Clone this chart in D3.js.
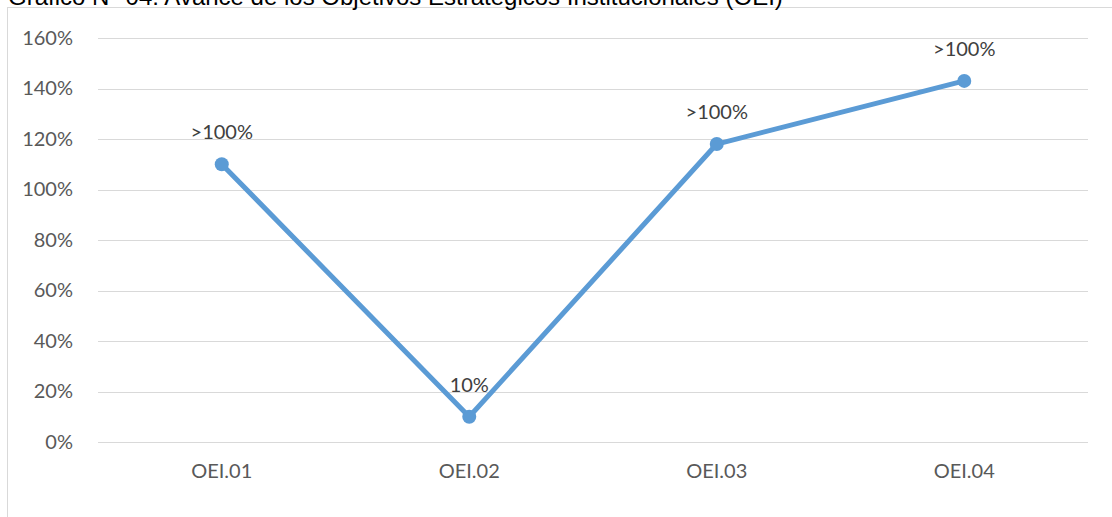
<!DOCTYPE html>
<html>
<head>
<meta charset="utf-8">
<script src="https://cdn.jsdelivr.net/npm/d3@7"></script>
<style>
  body { margin: 0; background: #fff; }
  svg { display: block; }
</style>
</head>
<body>
<svg id="chart"></svg>
<script>
const categories = ["OEI.01", "OEI.02", "OEI.03", "OEI.04"];
const values = [1.10, 0.10, 1.18, 1.43];
const pointLabels = [">100%", "10%", ">100%", ">100%"];
const yTicks = [0, 0.2, 0.4, 0.6, 0.8, 1.0, 1.2, 1.4, 1.6];

const width = 1112, height = 517;
const margin = { top: 38, right: 24, bottom: 75, left: 98 };

const svg = d3.select("#chart")
    .attr("width", width)
    .attr("height", height);

// chart frame (cut off on the right and bottom like the original)
svg.append("rect")
    .attr("x", 7.5).attr("y", 7.5)
    .attr("width", width + 20).attr("height", height + 20)
    .attr("fill", "none")
    .attr("stroke", "#d9d9d9")
    .attr("stroke-width", 1);

// title, mostly clipped at the top as in the source picture
svg.append("text")
    .attr("x", 8).attr("y", 5)
    .attr("font-family", "Liberation Sans, Arial, sans-serif")
    .attr("font-size", 24)
    .attr("fill", "#000")
    .text("Gráfico N° 04: Avance de los Objetivos Estratégicos Institucionales (OEI)");

const x = d3.scaleBand()
    .domain(categories)
    .range([margin.left, width - margin.right]);

const y = d3.scaleLinear()
    .domain([0, 1.6])
    .range([height - margin.bottom, margin.top]);

const font = "Lato, 'Open Sans', sans-serif";

// gridlines
svg.append("g")
    .selectAll("line")
    .data(yTicks)
    .enter()
    .append("line")
    .attr("x1", margin.left)
    .attr("x2", width - margin.right)
    .attr("y1", d => Math.round(y(d)) + 0.5)
    .attr("y2", d => Math.round(y(d)) + 0.5)
    .attr("stroke", "#d9d9d9")
    .attr("stroke-width", 1);

// y axis labels
const yAxis = svg.append("g")
    .attr("transform", "translate(" + (margin.left - 22) + ",0)")
    .call(d3.axisLeft(y).tickValues(yTicks).tickFormat(d3.format(".0%")).tickSize(0));
yAxis.select(".domain").remove();
yAxis.selectAll("text")
    .attr("font-family", font)
    .attr("font-size", 20)
    .attr("fill", "#595959");

// x axis labels
const xAxis = svg.append("g")
    .attr("transform", "translate(0," + (height - margin.bottom) + ")")
    .call(d3.axisBottom(x).tickSize(0).tickPadding(22));
xAxis.select(".domain").remove();
xAxis.selectAll("text")
    .attr("font-family", font)
    .attr("font-size", 20)
    .attr("fill", "#595959");

const cx = d => x(d) + x.bandwidth() / 2;

const line = d3.line()
    .x((d, i) => cx(categories[i]))
    .y(d => y(d));

svg.append("path")
    .datum(values)
    .attr("d", line)
    .attr("fill", "none")
    .attr("stroke", "#5b9bd5")
    .attr("stroke-width", 5)
    .attr("stroke-linejoin", "round")
    .attr("stroke-linecap", "round");

svg.append("g")
    .selectAll("circle")
    .data(values)
    .enter()
    .append("circle")
    .attr("cx", (d, i) => cx(categories[i]))
    .attr("cy", d => y(d))
    .attr("r", 7)
    .attr("fill", "#5b9bd5");

// data labels
svg.append("g")
    .selectAll("text")
    .data(values)
    .enter()
    .append("text")
    .attr("x", (d, i) => cx(categories[i]))
    .attr("y", d => y(d) - 25)
    .attr("text-anchor", "middle")
    .attr("font-family", font)
    .attr("font-size", 20)
    .attr("fill", "#404040")
    .text((d, i) => pointLabels[i]);
</script>
</body>
</html>
